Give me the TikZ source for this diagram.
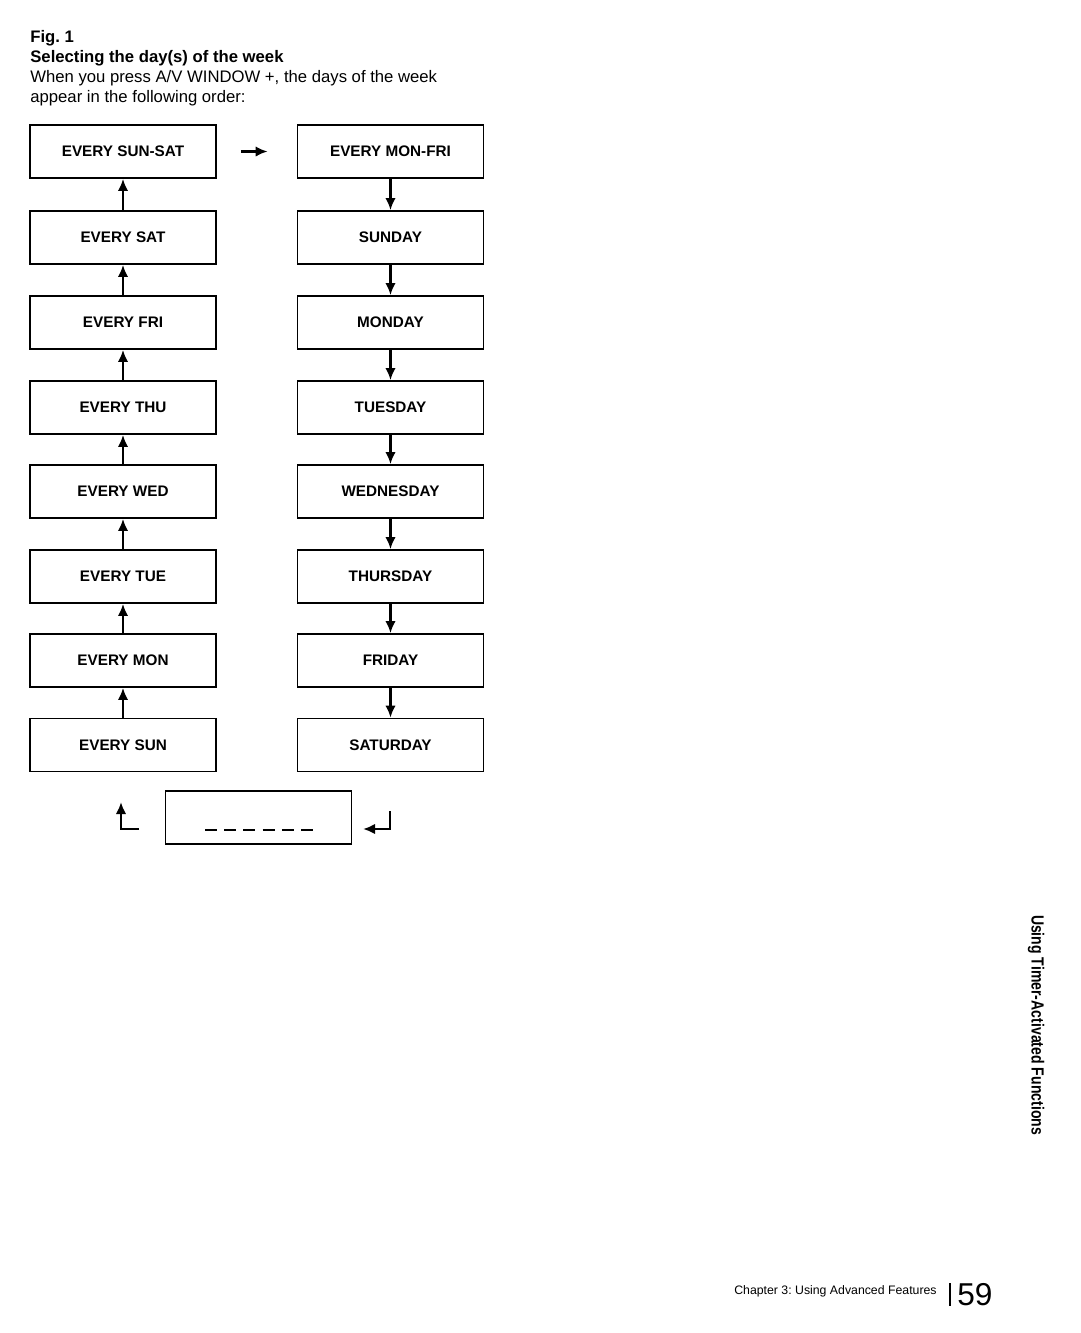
\documentclass[tikz,border=0pt]{standalone}
\usepackage{fontspec}
\setmainfont{Liberation Sans}
\newfontfamily\condfont[FakeStretch=0.8]{Liberation Sans}
\usetikzlibrary{arrows.meta}
\frenchspacing

\tikzset{
    daybox/.style={draw, line width=1pt, minimum width=3.72cm, minimum height=1.06cm,
        inner sep=0pt, font=\fontsize{8.7}{10}\selectfont\bfseries},
    stepline/.style={-{Latex[length=2.4mm, width=2.1mm]}, line width=1.6pt},
}

\begin{document}
\begin{tikzpicture}[x=0.02cm, y=-0.02cm]
        \useasboundingbox (0, 0) rectangle (1080, 1333);
        % caption above the figure
        \node[anchor=north west, align=left, inner sep=0pt, font=\fontsize{9.5}{11.3}\selectfont]
            (caption) at (30, 30) {\textbf{Fig. 1}\\ \textbf{Selecting the day(s) of the week}\\
            When you press A/V WINDOW +, the days of the week\\ appear in the following order:};
        % left column, read upwards
        \node[daybox] (sunsat) at (123, 151.5) {EVERY SUN-SAT};
        \node[daybox] (sat) at (123, 237.5) {EVERY SAT};
        \node[daybox] (fri) at (123, 322.5) {EVERY FRI};
        \node[daybox] (thu) at (123, 407.5) {EVERY THU};
        \node[daybox] (wed) at (123, 491.5) {EVERY WED};
        \node[daybox] (tue) at (123, 576.5) {EVERY TUE};
        \node[daybox] (mon) at (123, 660.5) {EVERY MON};
        \node[daybox] (sun) at (123, 745) {EVERY SUN};
        % right column, read downwards
        \node[daybox] (monfri) at (390.5, 151.5) {EVERY MON-FRI};
        \node[daybox] (sunday) at (390.5, 237.5) {SUNDAY};
        \node[daybox] (monday) at (390.5, 322.5) {MONDAY};
        \node[daybox] (tuesday) at (390.5, 407.5) {TUESDAY};
        \node[daybox] (wednesday) at (390.5, 491.5) {WEDNESDAY};
        \node[daybox] (thursday) at (390.5, 576.5) {THURSDAY};
        \node[daybox] (friday) at (390.5, 660.5) {FRIDAY};
        \node[daybox] (saturday) at (390.5, 745) {SATURDAY};
        % blank setting
        \node[daybox] (blank) at (258.5, 817.5) {};
        \draw[line width=1.4pt, dash pattern=on 0.24cm off 0.145cm] (205, 830) -- (313, 830);
        \draw[stepline] (sun) -- (mon);
        \draw[stepline] (mon) -- (tue);
        \draw[stepline] (tue) -- (wed);
        \draw[stepline] (wed) -- (thu);
        \draw[stepline] (thu) -- (fri);
        \draw[stepline] (fri) -- (sat);
        \draw[stepline] (sat) -- (sunsat);
        \draw[stepline, shorten <=0.48cm, shorten >=0.58cm] (sunsat) -- (monfri);
        \draw[stepline] (monfri) -- (sunday);
        \draw[stepline] (sunday) -- (monday);
        \draw[stepline] (monday) -- (tuesday);
        \draw[stepline] (tuesday) -- (wednesday);
        \draw[stepline] (wednesday) -- (thursday);
        \draw[stepline] (thursday) -- (friday);
        \draw[stepline] (friday) -- (saturday);
        % wrap-round arrows beside the blank box
        \coordinate (backfoot) at (139, 829);
        \coordinate (backtop) at (121, 802);
        \coordinate (intop) at (390, 811);
        \coordinate (inend) at (363, 829);
        \draw[stepline] (backfoot) -- (121, 829) -- (backtop);
        \draw[stepline] (intop) -- (390, 829) -- (inend);
        % side tab and footer
        \node[rotate=-90, inner sep=0pt, font=\condfont\bfseries\fontsize{10}{12}\selectfont]
            (sidetitle) at (1036, 1025) {Using Timer-Activated Functions};
        \node[anchor=base east, inner sep=0pt, font=\fontsize{7}{8}\selectfont]
            (chapter) at (937, 1294) {Chapter 3: Using Advanced Features};
        \node[anchor=base west, inner sep=0pt, font=\fontsize{18}{20}\selectfont]
            (pagenum) at (957, 1305) {59};
        \draw[line width=0.6pt] (950, 1283) -- (950, 1306);
    \end{tikzpicture}
\end{document}
